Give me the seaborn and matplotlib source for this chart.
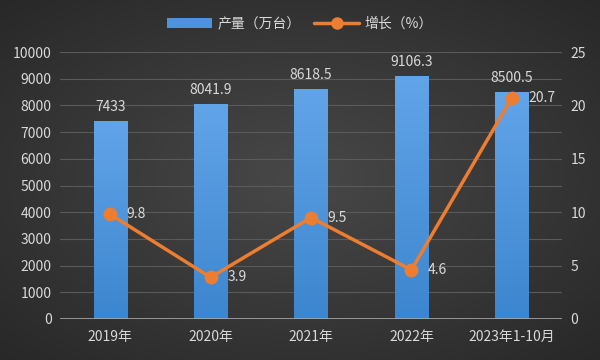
import numpy as np
import pandas as pd
import matplotlib
matplotlib.use("Agg")
import matplotlib.pyplot as plt
import seaborn as sns
from matplotlib.lines import Line2D
from matplotlib.patches import Patch
from matplotlib.colors import LinearSegmentedColormap

categories = ["2019年", "2020年", "2021年", "2022年", "2023年1-10月"]
output_vals = [7433, 8041.9, 8618.5, 9106.3, 8500.5]
output_labels = ["7433", "8041.9", "8618.5", "9106.3", "8500.5"]
growth_vals = [9.8, 3.9, 9.5, 4.6, 20.7]
growth_labels = ["9.8", "3.9", "9.5", "4.6", "20.7"]
left_ticks = list(range(0, 10001, 1000))
right_ticks = [0, 5, 10, 15, 20, 25]

sns.set_theme(style="dark")
plt.rcParams['font.family'] = ['Noto Sans CJK SC', 'DejaVu Sans']

TXT = "#d9d9d9"
BLUE = "#4b93dc"
ORANGE = "#ed7d31"

fig = plt.figure(figsize=(6, 3.6), dpi=100)

# radial gradient background
bg = fig.add_axes([0, 0, 1, 1], zorder=-10)
yy, xx = np.mgrid[-1:1:360j, -1:1:600j]
r = np.sqrt(xx**2 + yy**2) / np.sqrt(2)
c0 = np.array([0x48, 0x48, 0x48]) / 255
c1 = np.array([0x28, 0x28, 0x28]) / 255
img = c0[None, None, :] * (1 - r[..., None]) + c1[None, None, :] * r[..., None]
bg.imshow(img, aspect='auto', extent=[0, 1, 0, 1])
bg.axis('off')

ax = fig.add_axes([60/600, 1 - 319/360, 502/600, (319-52)/360])
ax.patch.set_alpha(0)
df = pd.DataFrame({"cat": categories, "val": output_vals})
sns.barplot(data=df, x="cat", y="val", ax=ax, color=BLUE, width=0.33,
            saturation=1, zorder=3, linewidth=0, edgecolor='none')
ax.set_ylim(0, 10000)
ax.set_xlim(-0.5, 4.5)
ax.set_yticks(left_ticks)
ax.set_yticklabels([str(t) for t in left_ticks], color=TXT, fontsize=10)
ax.set_xlabel("")
ax.set_ylabel("")
ax.tick_params(axis='x', colors=TXT, labelsize=10, length=0, pad=8)
ax.tick_params(axis='y', length=0, pad=6)
ax.grid(axis='y', color="#5a5a5a", linewidth=0.8, zorder=0)
ax.grid(axis='x', visible=False)
for s in ax.spines.values():
    s.set_visible(False)
ax.axhline(0, color="#a6a6a6", linewidth=1.2, zorder=4)

# gradient fill on bars
grad = np.linspace(0, 1, 256)[:, None]
cmap = LinearSegmentedColormap.from_list("b", ["#3c86cf", "#62a4e8"])
for p in ax.patches:
    x0, y0 = p.get_x(), p.get_y()
    w, h = p.get_width(), p.get_height()
    im = ax.imshow(grad, cmap=cmap, aspect='auto', origin='lower',
                   extent=[x0, x0 + w, y0, y0 + h], zorder=3.5)
    im.set_clip_path(p)
ax.set_xlim(-0.5, 4.5)
ax.set_ylim(0, 10000)

for i, (v, lab) in enumerate(zip(output_vals, output_labels)):
    ax.annotate(lab, (i, v), xytext=(0, 5), textcoords='offset points',
                ha='center', va='bottom', color=TXT, fontsize=10, zorder=6)

ax2 = ax.twinx()
ax2.patch.set_alpha(0)
sns.lineplot(x=list(range(len(categories))), y=growth_vals, ax=ax2,
             color=ORANGE, linewidth=2.5, marker='o', markersize=10,
             markeredgewidth=0, zorder=5)
ax2.set_ylim(0, 25)
ax2.set_yticks(right_ticks)
ax2.set_yticklabels([str(t) for t in right_ticks], color=TXT, fontsize=10)
ax2.tick_params(axis='y', length=0, pad=6)
ax2.grid(False)
for s in ax2.spines.values():
    s.set_visible(False)
for i, (v, lab) in enumerate(zip(growth_vals, growth_labels)):
    ax2.annotate(lab, (i, v), xytext=(12, 0), textcoords='offset points',
                 ha='left', va='center', color=TXT, fontsize=10, zorder=6)

handles = [Patch(facecolor=BLUE, edgecolor='none'),
           Line2D([0], [0], color=ORANGE, linewidth=2.5, marker='o',
                  markersize=9, markeredgewidth=0)]
fig.legend(handles, ["产量（万台）", "增长（%）"], loc='center',
           bbox_to_anchor=(0.5, 1 - 24/360), ncol=2, frameon=False,
           fontsize=10, labelcolor=TXT, handlelength=3.2, handleheight=0.7,
           columnspacing=1.0, handletextpad=0.4)

fig.savefig("out.png", dpi=100)
